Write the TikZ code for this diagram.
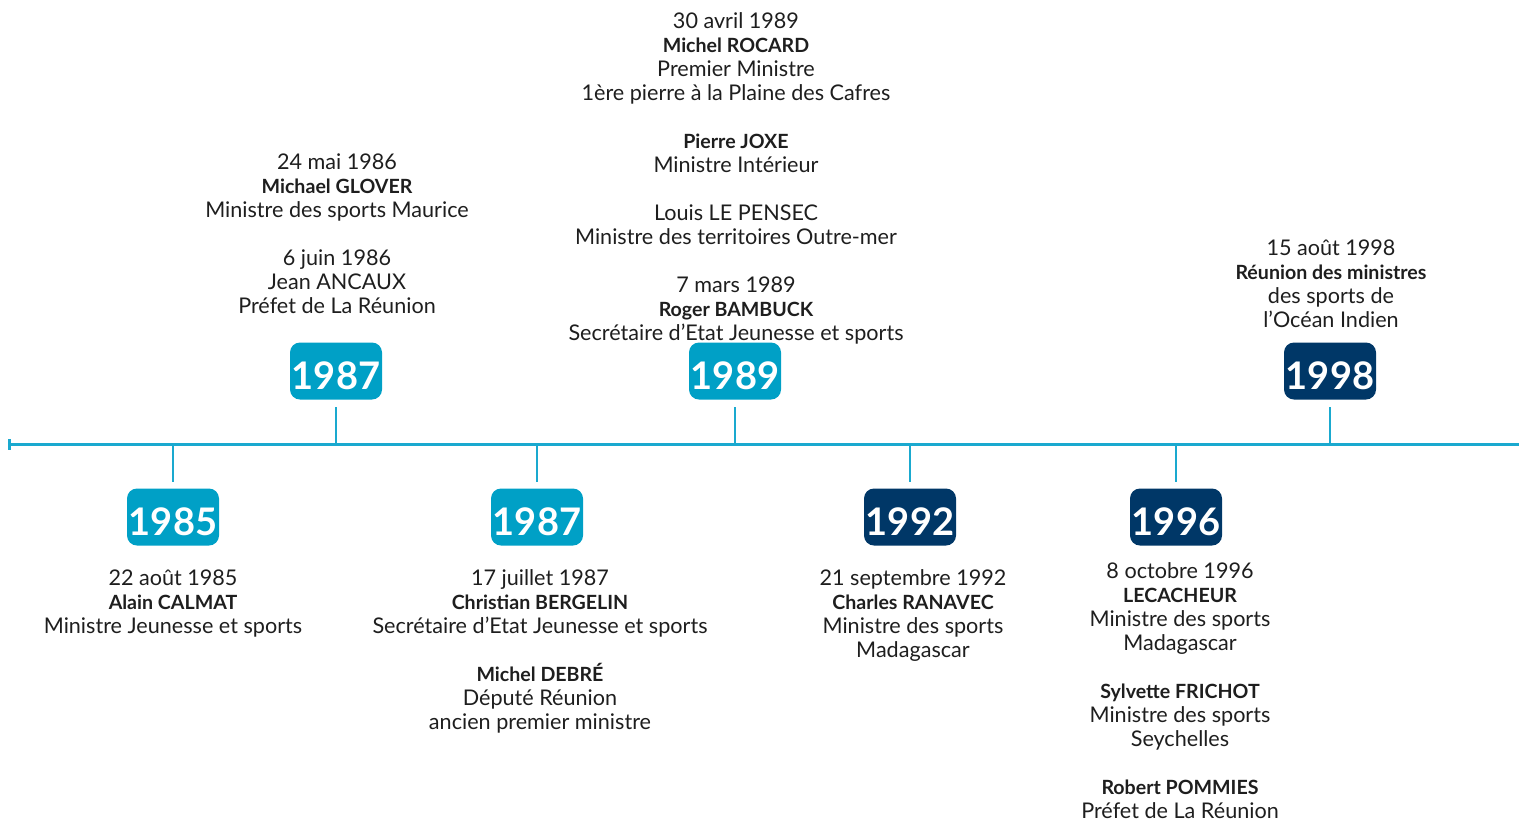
\documentclass[tikz,border=0pt]{standalone}
\usepackage{fontspec}
\setmainfont{Lato}
\usetikzlibrary{arrows.meta}
\definecolor{lightblue}{HTML}{00A0C6}
\definecolor{lineblue}{HTML}{1AA9CF}
\definecolor{darkblue}{HTML}{003767}
\definecolor{txtgray}{HTML}{1E1E1E}
\newcommand{\nm}[1]{{\bfseries\fontsize{9.8}{12}\selectfont #1}}
\begin{document}
\begin{tikzpicture}[x=0.5pt,y=-0.5pt, line join=round, font=\fontsize{10.8}{12}\selectfont]
	\tikzset{yearbox/.style={rounded corners=5pt, minimum width=46pt, minimum height=28.5pt, inner sep=0pt, text height=18.5pt, text depth=0pt, text=white, font=\fontsize{19}{19}\selectfont\bfseries},
		light/.style={yearbox, fill=lightblue},
		dark/.style={yearbox, fill=darkblue},
		info/.style={align=center, anchor=north, inner sep=0pt, text=txtgray},
		stem/.style={lineblue, line width=0.8pt}}
	\useasboundingbox (0,0) rectangle (1519,820);
	% timeline
	\draw[lineblue, line width=1.5pt, {Bar[width=5.5pt]}-] (8,444) coordinate (start)--(1519,444) coordinate (end);
	\coordinate (t85) at (173,444);
	\coordinate (t87a) at (336,444);
	\coordinate (t87b) at (537,444);
	\coordinate (t89) at (735,444);
	\coordinate (t92) at (910,444);
	\coordinate (t96) at (1176,444);
	\coordinate (t98) at (1330,444);
	% year boxes
	\node[light] (y85) at (173,517) {1985};
	\node[light] (y87a) at (336,371) {1987};
	\node[light] (y87b) at (537,517) {1987};
	\node[light] (y89) at (735,371) {1989};
	\node[dark] (y92) at (910,517) {1992};
	\node[dark] (y96) at (1176,517) {1996};
	\node[dark] (y98) at (1330,371) {1998};
	% stems
	\draw[stem] (t85)--([yshift=3pt]y85.north);
	\draw[stem] (t87a)--([yshift=-3.5pt]y87a.south);
	\draw[stem] (t87b)--([yshift=3pt]y87b.north);
	\draw[stem] (t89)--([yshift=-3.5pt]y89.south);
	\draw[stem] (t92)--([yshift=3pt]y92.north);
	\draw[stem] (t96)--([yshift=3pt]y96.north);
	\draw[stem] (t98)--([yshift=-3.5pt]y98.south);
	% texts
	\node[info] (i85) at (173,569) {22 août 1985\\ \nm{Alain CALMAT}\\ Ministre Jeunesse et sports};
	\node[info] (i87a) at (337,153) {24 mai 1986\\ \nm{Michael GLOVER}\\ Ministre des sports Maurice\\[12pt] 6 juin 1986\\ Jean ANCAUX\\ Préfet de La Réunion};
	\node[info] (i87b) at (540,569) {17 juillet 1987\\ \nm{Christian BERGELIN}\\ Secrétaire d’Etat Jeunesse et sports\\[12pt] \nm{Michel DEBRÉ}\\ Député Réunion\\ ancien premier ministre};
	\node[info] (i89) at (736,12) {30 avril 1989\\ \nm{Michel ROCARD}\\ Premier Ministre\\ 1ère pierre à la Plaine des Cafres\\[12pt] \nm{Pierre JOXE}\\ Ministre Intérieur\\[12pt] Louis LE PENSEC\\ Ministre des territoires Outre-mer\\[12pt] 7 mars 1989\\ \nm{Roger BAMBUCK}\\ Secrétaire d’Etat Jeunesse et sports};
	\node[info] (i92) at (913,569) {21 septembre 1992\\ \nm{Charles RANAVEC}\\ Ministre des sports\\ Madagascar};
	\node[info] (i96) at (1180,562) {8 octobre 1996\\ \nm{LECACHEUR}\\ Ministre des sports\\ Madagascar\\[12pt] \nm{Sylvette FRICHOT}\\ Ministre des sports\\ Seychelles\\[12pt] \nm{Robert POMMIES}\\ Préfet de La Réunion};
	\node[info] (i98) at (1331,239) {15 août 1998\\ \nm{Réunion des ministres}\\ des sports de\\ l’Océan Indien};
\end{tikzpicture}
\end{document}
